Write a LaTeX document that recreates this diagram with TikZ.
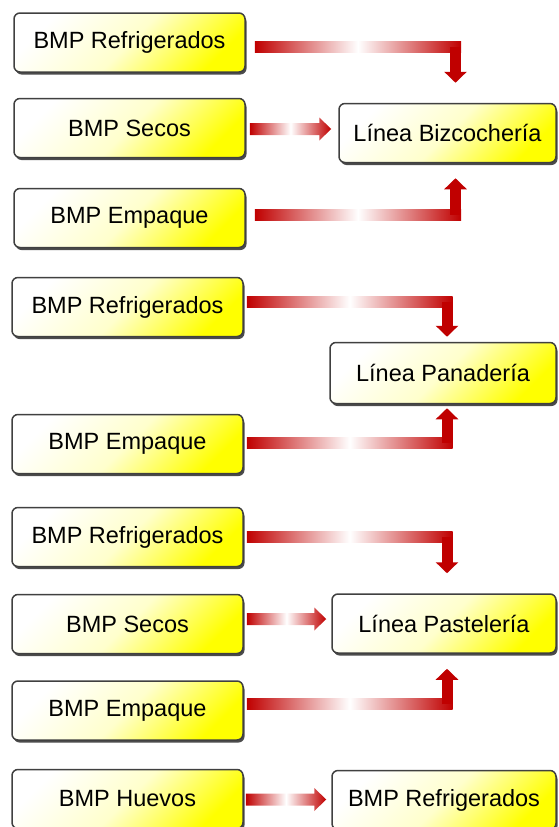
\documentclass[tikz,border=0pt]{standalone}
\usepackage{fontspec}
\setmainfont{Liberation Sans}
\usetikzlibrary{calc, shadows, arrows.meta}

\definecolor{arrowred}{RGB}{192,0,0}
\tikzset{
  box/.style={rectangle, rounded corners=6pt, draw=black!75, line width=1.5pt,
    top color=white, bottom color=yellow, middle color=white!80!yellow, shading angle=45,
    minimum width=231pt, minimum height=59pt, inner sep=0pt,
    font=\fontsize{23.5}{27}\selectfont,
    drop shadow={shadow xshift=1.5pt, shadow yshift=-2.5pt, fill=black!70, opacity=1}},
  shaft/.style={left color=arrowred, right color=arrowred, middle color=white},
  leg/.style={draw=arrowred, line width=11pt, -{Triangle[width=22pt,length=11pt]}}
}

\begin{document}
\begin{tikzpicture}[x=1pt,y=-1pt]
\useasboundingbox (0,0) rectangle (558,827);
% Raw material boxes
\node[box] (refri1) at (129.5,42.5) {BMP Refrigerados};
\node[box] (secos1) at (129.5,128) {BMP Secos};
\node[box] (empaque1) at (129.5,218) {BMP Empaque};
\node[box] (refri2) at (127.5,307) {BMP Refrigerados};
\node[box] (empaque2) at (127.5,444) {BMP Empaque};
\node[box] (refri3) at (127.5,537) {BMP Refrigerados};
\node[box] (secos3) at (127.5,624) {BMP Secos};
\node[box] (empaque3) at (127.5,710.5) {BMP Empaque};
\node[box] (huevos) at (127.5,799) {BMP Huevos};
% Production lines
\node[box, minimum width=217pt] (bizcocheria) at (447.5,133) {Línea Bizcochería};
\node[box, minimum width=226pt, minimum height=61pt] (panaderia) at (443,373) {Línea Panadería};
\node[box, minimum width=224pt] (pasteleria) at (444,623.5) {Línea Pastelería};
\node[box, minimum width=224pt] (refri4) at (444,800) {BMP Refrigerados};

% Refrigerados to Bizcocheria, down from above
\coordinate (a1s) at ($(refri1.east)+(9,4.5)$);
\coordinate (a1c) at ($(bizcocheria.north |- a1s)+(8,0)$);
\shade[shaft] ($(a1s)+(0,-5.5)$) rectangle ($(a1c)+(5.5,5.5)$);
\draw[leg] (a1c) -- ($(bizcocheria.north -| a1c)+(0,-20)$);
% Secos to Bizcocheria, straight
\coordinate (a2s) at ($(secos1.east)+(4,1)$);
\coordinate (a2t) at ($(bizcocheria.west |- a2s)+(-7,0)$);
\shade[shaft] ($(a2s)+(0,-6)$) -- ($(a2t)+(-12,-6)$) -- ($(a2t)+(-12,-11.5)$) -- (a2t)
  -- ($(a2t)+(-12,11.5)$) -- ($(a2t)+(-12,6)$) -- ($(a2s)+(0,6)$) -- cycle;
% Empaque to Bizcocheria, up from below
\coordinate (a3s) at ($(empaque1.east)+(9,-3.5)$);
\coordinate (a3c) at ($(bizcocheria.south |- a3s)+(8,0)$);
\shade[shaft] ($(a3s)+(0,-5.5)$) rectangle ($(a3c)+(5.5,5.5)$);
\draw[leg] (a3c) -- ($(bizcocheria.south -| a3c)+(0,15)$);

% Refrigerados to Panaderia
\coordinate (a4s) at ($(refri2.east)+(3,-5.5)$);
\coordinate (a4c) at ($(panaderia.north |- a4s)+(4,0)$);
\shade[shaft] ($(a4s)+(0,-5.5)$) rectangle ($(a4c)+(5.5,5.5)$);
\draw[leg] (a4c) -- ($(panaderia.north -| a4c)+(0,-5)$);
% Empaque to Panaderia
\coordinate (a5s) at ($(empaque2.east)+(3,-1.5)$);
\coordinate (a5c) at ($(panaderia.south |- a5s)+(4,0)$);
\shade[shaft] ($(a5s)+(0,-5.5)$) rectangle ($(a5c)+(5.5,5.5)$);
\draw[leg] (a5c) -- ($(panaderia.south -| a5c)+(0,4)$);

% Refrigerados to Pasteleria
\coordinate (a6s) at ($(refri3.east)+(3,0)$);
\coordinate (a6c) at ($(pasteleria.north |- a6s)+(3,0)$);
\shade[shaft] ($(a6s)+(0,-5.5)$) rectangle ($(a6c)+(5.5,5.5)$);
\draw[leg] (a6c) -- ($(pasteleria.north -| a6c)+(0,-20)$);
% Secos to Pasteleria
\coordinate (a7s) at ($(secos3.east)+(3,-5)$);
\coordinate (a7t) at ($(pasteleria.west |- a7s)+(-5,0)$);
\shade[shaft] ($(a7s)+(0,-6)$) -- ($(a7t)+(-12,-6)$) -- ($(a7t)+(-12,-11.5)$) -- (a7t)
  -- ($(a7t)+(-12,11.5)$) -- ($(a7t)+(-12,6)$) -- ($(a7s)+(0,6)$) -- cycle;
% Empaque to Pasteleria
\coordinate (a8s) at ($(empaque3.east)+(3,-6.5)$);
\coordinate (a8c) at ($(pasteleria.south |- a8s)+(3,0)$);
\shade[shaft] ($(a8s)+(0,-5.5)$) rectangle ($(a8c)+(5.5,5.5)$);
\draw[leg] (a8c) -- ($(pasteleria.south -| a8c)+(0,15)$);

% Huevos to Refrigerados
\coordinate (a9s) at ($(huevos.east)+(2,0.5)$);
\coordinate (a9t) at ($(refri4.west |- a9s)+(-5,0)$);
\shade[shaft] ($(a9s)+(0,-6)$) -- ($(a9t)+(-12,-6)$) -- ($(a9t)+(-12,-11.5)$) -- (a9t)
  -- ($(a9t)+(-12,11.5)$) -- ($(a9t)+(-12,6)$) -- ($(a9s)+(0,6)$) -- cycle;
\end{tikzpicture}
\end{document}
